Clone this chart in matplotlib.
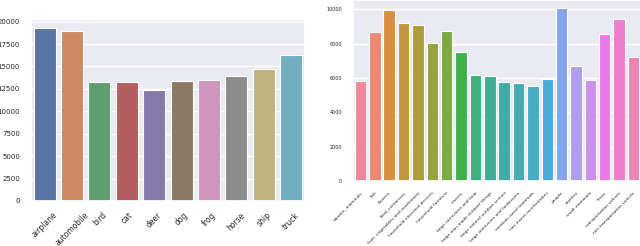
import matplotlib
matplotlib.use("Agg")
import matplotlib.pyplot as plt
import seaborn as sns
import pandas as pd

# CIFAR-10 class counts
cifar10_classes = ["airplane", "automobile", "bird", "cat", "deer",
                   "dog", "frog", "horse", "ship", "truck"]
cifar10_counts = [19330, 18990, 13220, 13220, 12360,
                  13370, 13450, 13970, 14720, 16250]

# CIFAR-100 superclass counts
cifar100_classes = [
    "aquatic_mammals", "fish", "flowers", "food_containers",
    "fruit, vegetables and mushrooms", "household electrical devices",
    "household furniture", "insects", "large carnivores and bear",
    "large man-made outdoor things", "large natural outdoor scenes",
    "large omnivores and herbivores", "medium-sized mammals",
    "non-insect invertebrates", "people", "reptiles", "small mammals",
    "trees", "transportation vehicle", "non-transportation vehicle",
]
cifar100_counts = [5850, 8660, 9940, 9190, 9070, 8020, 8740, 7500, 6160, 6120,
                   5770, 5730, 5520, 5940, 10060, 6680, 5880, 8560, 9440, 7200]

sns.set_theme(style="darkgrid")

fig = plt.figure(figsize=(6.4, 2.46), dpi=100)

ax1 = fig.add_axes([0.0484, 0.183, 0.428, 0.740])
df1 = pd.DataFrame({"cls": cifar10_classes, "n": cifar10_counts})
sns.barplot(data=df1, x="cls", y="n", hue="cls", palette="deep",
            legend=False, ax=ax1, edgecolor="white", linewidth=0.8)
ax1.set_xlabel("")
ax1.set_ylabel("")
ax1.set_yticks([0, 2500, 5000, 7500, 10000, 12500, 15000, 17500, 20000])
ax1.tick_params(axis="y", labelsize=5, pad=2)
ax1.tick_params(axis="x", labelsize=5.5, rotation=45, pad=1)

ax2 = fig.add_axes([0.552, 0.264, 0.449, 0.738])
df2 = pd.DataFrame({"cls": cifar100_classes, "n": cifar100_counts})
sns.barplot(data=df2, x="cls", y="n", hue="cls",
            palette=sns.husl_palette(len(cifar100_classes), l=0.68),
            saturation=0.85, legend=False, ax=ax2,
            edgecolor="white", linewidth=0.8)
ax2.set_xlabel("")
ax2.set_ylabel("")
ax2.set_yticks([0, 2000, 4000, 6000, 8000, 10000])
ax2.tick_params(axis="y", labelsize=3.5, pad=2)
ax2.set_xticks(range(len(cifar100_classes)))
ax2.set_xticklabels(cifar100_classes, rotation=45, ha="right",
                    rotation_mode="anchor", fontsize=3.2)
ax2.tick_params(axis="x", pad=1)

fig.savefig("out.png", dpi=100)
